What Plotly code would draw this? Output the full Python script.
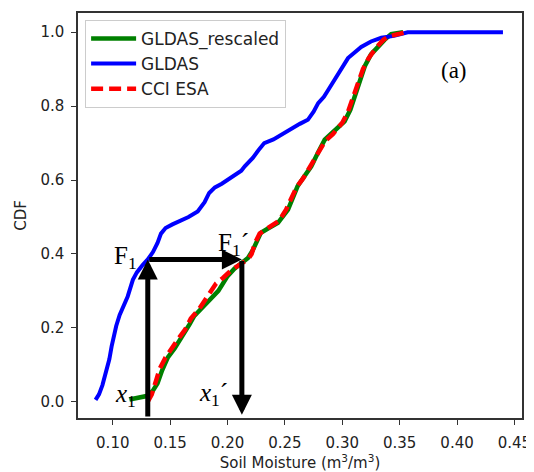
import plotly.graph_objects as go

# ---- data ----
gldas_x = [0.085, 0.088, 0.091, 0.094, 0.097, 0.099, 0.101, 0.103, 0.106, 0.110, 0.113, 0.1175,
           0.121, 0.126, 0.1305, 0.135, 0.139, 0.142, 0.146, 0.152, 0.159, 0.166, 0.174, 0.180,
           0.184, 0.189, 0.195, 0.200, 0.206, 0.212, 0.215, 0.222, 0.228, 0.232, 0.240, 0.248,
           0.255, 0.263, 0.270, 0.275, 0.279, 0.284, 0.288, 0.293, 0.299, 0.305, 0.3165, 0.325,
           0.334, 0.345, 0.357, 0.440]
gldas_y = [0.005, 0.02, 0.045, 0.08, 0.115, 0.15, 0.18, 0.205, 0.235, 0.265, 0.285, 0.33,
           0.35, 0.37, 0.385, 0.405, 0.43, 0.455, 0.47, 0.48, 0.489, 0.50, 0.515, 0.54,
           0.565, 0.58, 0.59, 0.60, 0.615, 0.625, 0.637, 0.66, 0.685, 0.70, 0.71, 0.725,
           0.74, 0.752, 0.763, 0.785, 0.808, 0.825, 0.845, 0.87, 0.905, 0.93, 0.96, 0.975,
           0.985, 0.99, 1.0, 1.0]

resc_x = [0.1145, 0.122, 0.1305, 0.135, 0.139, 0.143, 0.148, 0.154, 0.1625, 0.167, 0.171, 0.178,
          0.1855, 0.192, 0.200, 0.206, 0.212, 0.2178, 0.222, 0.226, 0.229, 0.236, 0.244, 0.2527,
          0.257, 0.261, 0.267, 0.273, 0.279, 0.2847, 0.292, 0.302, 0.307, 0.311, 0.315, 0.3196,
          0.325, 0.331, 0.337, 0.3426, 0.353]
resc_y = [0.006, 0.01, 0.016, 0.03, 0.05, 0.085, 0.12, 0.145, 0.185, 0.21, 0.232, 0.255,
          0.276, 0.30, 0.34, 0.36, 0.375, 0.389, 0.41, 0.44, 0.457, 0.47, 0.484, 0.52,
          0.55, 0.583, 0.61, 0.637, 0.675, 0.709, 0.73, 0.759, 0.79, 0.827, 0.87, 0.908,
          0.94, 0.962, 0.98, 0.995, 1.0]

cci_x = [0.1305, 0.134, 0.138, 0.141, 0.146, 0.150, 0.157, 0.163, 0.168, 0.175, 0.183, 0.190,
         0.196, 0.203, 0.210, 0.2178, 0.221, 0.224, 0.228, 0.235, 0.245, 0.251, 0.256, 0.260,
         0.266, 0.272, 0.278, 0.285, 0.292, 0.300, 0.305, 0.309, 0.313, 0.318, 0.323, 0.330,
         0.336, 0.342, 0.349, 0.355]
cci_y = [0.0, 0.02, 0.06, 0.09, 0.12, 0.14, 0.17, 0.195, 0.225, 0.25, 0.29, 0.32,
         0.335, 0.355, 0.37, 0.385, 0.40, 0.43, 0.455, 0.47, 0.49, 0.52, 0.555, 0.58,
         0.605, 0.635, 0.67, 0.705, 0.725, 0.755, 0.785, 0.82, 0.86, 0.90, 0.93, 0.96,
         0.98, 0.99, 0.995, 1.0]

x_ticks = [0.10, 0.15, 0.20, 0.25, 0.30, 0.35, 0.40, 0.45]
y_ticks = [0.0, 0.2, 0.4, 0.6, 0.8, 1.0]

# mapping example values
x1 = 0.1305
x1p = 0.2125
F1 = 0.385

fig = go.Figure()
fig.add_trace(go.Scatter(x=resc_x, y=resc_y, mode="lines", name="GLDAS_rescaled",
                         line=dict(color="#008000", width=4.5)))
fig.add_trace(go.Scatter(x=gldas_x, y=gldas_y, mode="lines", name="GLDAS",
                         line=dict(color="#0000ff", width=4)))
fig.add_trace(go.Scatter(x=cci_x, y=cci_y, mode="lines", name="CCI ESA",
                         line=dict(color="#ff0000", width=4.5, dash="12px,6px")))

arrow_common = dict(xref="x", yref="y", axref="x", ayref="y", showarrow=True, text="",
                    arrowhead=2, arrowsize=0.8, arrowwidth=5, arrowcolor="black", standoff=0)
fig.add_annotation(x=x1, y=F1, ax=x1, ay=-0.044, **arrow_common)
fig.add_annotation(x=x1p, y=F1, ax=x1, ay=F1, **arrow_common)
fig.add_annotation(x=x1p, y=-0.035, ax=x1p, ay=F1, **arrow_common)

serif = dict(family="Liberation Serif, Times New Roman, serif", size=25, color="black")
fig.add_annotation(x=0.1115, y=0.39, text="F<sub>1</sub>", showarrow=False, font=serif)
fig.add_annotation(x=0.205, y=0.425, text="F<sub>1</sub>´", showarrow=False, font=serif)
fig.add_annotation(x=0.111, y=0.018, text="<i>x</i><sub>1</sub>", showarrow=False, font=serif)
fig.add_annotation(x=0.188, y=0.02, text="<i>x</i><sub>1</sub>´", showarrow=False, font=serif)
fig.add_annotation(x=0.3976, y=0.897, text="(a)", showarrow=False,
                   font=dict(family="Liberation Serif, Times New Roman, serif", size=23, color="black"))

axis_common = dict(showline=True, linecolor="#333", linewidth=1.5, mirror=True, automargin=False,
                   ticks="outside", ticklen=5, tickcolor="#333", showgrid=False, zeroline=False,
                   tickfont=dict(family="DejaVu Sans", size=15, color="#222"))
fig.update_xaxes(range=[0.0697, 0.4566], tickvals=x_ticks,
                 ticktext=[f"{v:.2f}" for v in x_ticks], ticklabelstandoff=5,
                 title=dict(text="Soil Moisture (m<sup>3</sup>/m<sup>3</sup>)",
                            font=dict(family="DejaVu Sans", size=15, color="#222"), standoff=5),
                 **axis_common)
fig.update_yaxes(range=[-0.044, 1.052], tickvals=y_ticks,
                 ticktext=[f"{v:.1f}" for v in y_ticks], ticklabelstandoff=4,
                 title=dict(text="CDF", font=dict(family="DejaVu Sans", size=15, color="#222"),
                            standoff=10),
                 **axis_common)

fig.update_layout(
    width=526, height=464,
    margin=dict(l=70, r=12, t=5, b=54),
    plot_bgcolor="white", paper_bgcolor="white",
    showlegend=True,
    legend=dict(x=0.016, y=0.983, xanchor="left", yanchor="top",
                bgcolor="rgba(255,255,255,0.9)", bordercolor="#cccccc", borderwidth=1,
                font=dict(family="DejaVu Sans", size=17, color="#222"),
                tracegroupgap=0, itemwidth=45),
)

fig.write_html("out.html")
